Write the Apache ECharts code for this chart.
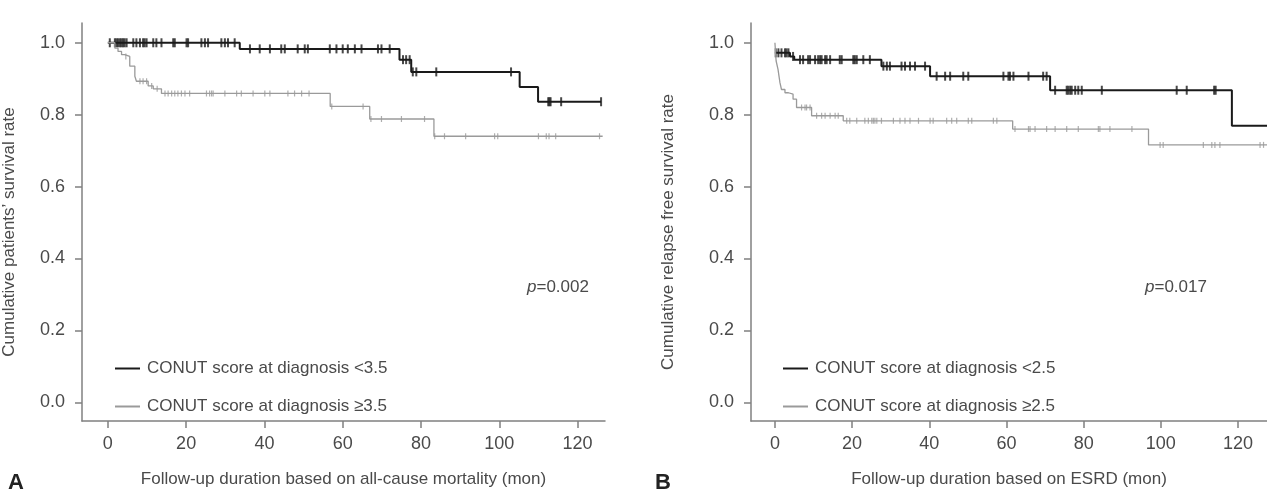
<!DOCTYPE html>
<html>
<head>
    <meta charset="utf-8">
    <title>Kaplan-Meier CONUT</title>
    <script src="https://cdn.jsdelivr.net/npm/echarts@6/dist/echarts.min.js"></script>
    <style>
        html, body { margin: 0; padding: 0; background: #fff; }
    </style>
</head>
<body>
    <div id="main" style="width: 1267px;height:493px;"></div>

    <script type="text/javascript">
        // tick values
        var xTicks = [0, 20, 40, 60, 80, 100, 120];
        var yTicks = [0, 0.2, 0.4, 0.6, 0.8, 1.0];

        // A: all-cause mortality, CONUT < 3.5
        var aLowTimes = [0, 33.7, 74.5, 77.5, 105.2, 109.9];
        var aLowSurv = [1.0, 0.983, 0.953, 0.919, 0.877, 0.836];
        var aLowEnd = 126;
        var aLowCens = [0.5, 1.8, 2.2, 2.6, 3.1, 3.5, 3.9, 4.3, 4.8, 6.5, 7.3, 8.2, 9.0, 9.4, 9.9, 11.6, 12.4, 13.7,
            16.7, 17.1, 20.1, 20.5, 23.9, 24.8, 25.6, 29.0, 29.9, 30.7, 32.4,
            36.3, 38.8, 41.4, 44.3, 45.2, 48.5, 50.3, 51.1, 56.7, 58.4, 60.0, 61.3, 63.1, 64.8, 69.0, 69.9, 72.0,
            75.4, 76.2, 77.1, 77.9, 78.8, 83.9, 103.0, 112.5, 112.8, 113.1, 115.8, 126];

        // A: CONUT >= 3.5
        var aHighTimes = [0, 1.8, 2.6, 3.5, 4.3, 5.6, 6.9, 7.3, 10.3, 11.6, 13.7, 56.8, 66.9, 83.3];
        var aHighSurv = [1.0, 0.985, 0.976, 0.967, 0.962, 0.935, 0.907, 0.893, 0.880, 0.872, 0.859, 0.823, 0.788, 0.740];
        var aHighEnd = 126.4;
        var aHighCens = [4.6, 8.2, 9.0, 9.9, 11.2, 12.6, 14.6, 15.4, 16.3, 17.1, 17.9, 18.8, 19.7, 20.9, 25.2, 26.0, 26.5, 26.9,
            29.9, 32.9, 34.1, 37.1, 40.1, 41.4, 46.0, 47.7, 49.5, 51.4, 57.2, 65.2, 67.2, 69.9, 75.0, 80.9,
            83.5, 86.0, 91.4, 98.8, 99.6, 110.0, 112.0, 112.7, 114.4, 125.6];

        // B: ESRD, CONUT < 2.5
        var bLowTimes = [0, 3.9, 5.0, 27.6, 40.2, 71.3, 118.4];
        var bLowSurv = [0.972, 0.962, 0.953, 0.935, 0.907, 0.868, 0.769];
        var bLowEnd = 130;
        var bLowCens = [0.2, 0.9, 1.7, 2.6, 3.0, 3.5, 4.7, 6.5, 7.3, 8.6, 9.1, 10.4, 11.2, 11.7, 12.1, 13.0, 13.4, 14.3,
            16.8, 17.3, 20.3, 20.7, 21.2, 22.9, 24.6, 28.1, 29.0, 29.8, 32.8, 33.7, 35.0, 36.3, 38.9,
            41.9, 44.1, 45.4, 48.8, 50.1, 59.2, 60.5, 60.9, 61.8, 65.7, 69.5, 70.4,
            72.6, 75.6, 76.0, 76.5, 76.9, 77.8, 78.6, 79.5, 84.7, 104.1, 106.7, 113.8, 114.2];

        // B: CONUT >= 2.5
        var bHighTimes = [0, 0.3, 0.8, 1.3, 1.7, 2.6, 3.5, 4.7, 5.6, 9.5, 17.7, 61.6, 96.8];
        var bHighSurv = [1.0, 0.95, 0.926, 0.889, 0.870, 0.861, 0.857, 0.843, 0.820, 0.797, 0.783, 0.760, 0.716];
        var bHighEnd = 130;
        var bHighCens = [6.9, 7.8, 8.2, 9.1, 10.8, 12.1, 13.0, 14.3, 15.6, 16.4,
            18.6, 19.4, 21.2, 23.3, 24.2, 25.1, 25.5, 25.9, 26.4, 27.6, 30.7, 32.4, 33.7, 35.0, 37.2, 40.2, 41.0,
            44.5, 45.8, 47.1, 50.1, 51.0, 56.6, 57.5,
            62.2, 65.7, 66.1, 67.4, 70.4, 72.6, 75.6, 78.6, 83.8, 84.2, 86.8, 92.5,
            99.8, 100.6, 111.0, 113.2, 114.0, 115.3, 125.7, 126.6];

        var FONT = '"Liberation Sans", Arial, sans-serif';
        var TXT = '#4a4a4a';
        var AXC = '#808080';
        var BLACK = '#1a1a1a';
        var GRAY = '#9a9a9a';

        function stepData(times, surv, end) {
            var d = [];
            for (var i = 0; i < times.length; i++) d.push([times[i], surv[i]]);
            d.push([end, surv[surv.length - 1]]);
            return d;
        }
        function censData(cens, times, surv) {
            return cens.map(function (t) {
                var s = surv[0];
                for (var i = 0; i < times.length; i++) if (times[i] <= t) s = surv[i];
                return [t, s];
            });
        }

        function xAx(idx, min, max, name) {
            return {
                type: 'value', gridIndex: idx, min: min, max: max,
                splitLine: { show: false },
                axisLine: { show: true, onZero: false, lineStyle: { color: AXC, width: 1.5 } },
                axisTick: { show: true, inside: false, length: 7, lineStyle: { color: AXC, width: 1.5 }, customValues: xTicks },
                axisLabel: { customValues: xTicks, margin: 14, color: TXT, fontSize: 18, fontFamily: FONT },
                name: name, nameLocation: 'middle', nameGap: 50,
                nameTextStyle: { color: TXT, fontSize: 17, fontFamily: FONT }
            };
        }
        function yAx(idx, name, gap) {
            return {
                type: 'value', gridIndex: idx, min: -0.052, max: 1.055,
                splitLine: { show: false },
                axisLine: { show: true, onZero: false, lineStyle: { color: AXC, width: 1.5 } },
                axisTick: { show: true, inside: false, length: 7, lineStyle: { color: AXC, width: 1.5 }, customValues: yTicks },
                axisLabel: {
                    customValues: yTicks, margin: 17, color: TXT, fontSize: 18, fontFamily: FONT,
                    formatter: function (v) { return v.toFixed(1); }
                },
                name: name, nameLocation: 'middle', nameGap: gap, nameRotate: 90,
                nameTextStyle: { color: TXT, fontSize: 17, fontFamily: FONT, padding: [0, 0, 0, -20] }
            };
        }
        function lineS(name, xi, data, color, w) {
            return {
                name: name, type: 'line', step: 'end', xAxisIndex: xi, yAxisIndex: xi,
                symbol: 'none', data: data, silent: true,
                lineStyle: { color: color, width: w }, itemStyle: { color: color }
            };
        }
        function censS(xi, data, color, size) {
            return {
                type: 'scatter', xAxisIndex: xi, yAxisIndex: xi, data: data, silent: true,
                symbol: 'rect', symbolSize: size, itemStyle: { color: color }
            };
        }
        function legendFor(left, names) {
            return {
                left: left, top: 355, orient: 'vertical', itemGap: 21,
                itemWidth: 25, itemHeight: 2, icon: 'rect', data: names, selectedMode: false,
                textStyle: { color: TXT, fontSize: 17, fontFamily: FONT, lineHeight: 16, padding: [0, 0, 0, 2] }
            };
        }

        var myChart = echarts.init(document.getElementById('main'));

        var option = {
            animation: false,
            backgroundColor: '#fff',
            grid: [
                { left: 82, top: 23, width: 523, height: 402 },
                { left: 751, top: 23, width: 516, height: 402 }
            ],
            xAxis: [
                xAx(0, -6.6, 127, 'Follow-up duration based on all-cause mortality (mon)'),
                xAx(1, -6.2, 127.5, 'Follow-up duration based on ESRD (mon)')
            ],
            yAxis: [
                yAx(0, 'Cumulative patients\u2019 survival rate', 64),
                yAx(1, 'Cumulative relapse free survival rate', 74)
            ],
            legend: [
                legendFor(110, ['CONUT score at diagnosis <3.5', 'CONUT score at diagnosis \u22653.5']),
                legendFor(778, ['CONUT score at diagnosis <2.5', 'CONUT score at diagnosis \u22652.5'])
            ],
            graphic: [
                { type: 'text', left: 8, top: 472, style: { text: 'A', font: 'bold 22px "Liberation Sans", sans-serif', fill: '#222' } },
                { type: 'text', left: 655, top: 472, style: { text: 'B', font: 'bold 22px "Liberation Sans", sans-serif', fill: '#222' } },
                {
                    type: 'text', left: 527, top: 279,
                    style: {
                        text: '{i|p}=0.002', fill: TXT, font: '17px ' + FONT,
                        rich: { i: { fontStyle: 'italic', fontSize: 17, fontFamily: FONT, fill: TXT } }
                    }
                },
                {
                    type: 'text', left: 1145, top: 279,
                    style: {
                        text: '{i|p}=0.017', fill: TXT, font: '17px ' + FONT,
                        rich: { i: { fontStyle: 'italic', fontSize: 17, fontFamily: FONT, fill: TXT } }
                    }
                }
            ],
            series: [
                lineS('CONUT score at diagnosis <3.5', 0, stepData(aLowTimes, aLowSurv, aLowEnd), BLACK, 2),
                lineS('CONUT score at diagnosis \u22653.5', 0, stepData(aHighTimes, aHighSurv, aHighEnd), GRAY, 1.3),
                censS(0, censData(aLowCens, aLowTimes, aLowSurv), BLACK, [2, 9]),
                censS(0, censData(aHighCens, aHighTimes, aHighSurv), GRAY, [1.2, 6]),
                lineS('CONUT score at diagnosis <2.5', 1, stepData(bLowTimes, bLowSurv, bLowEnd), BLACK, 2),
                lineS('CONUT score at diagnosis \u22652.5', 1, stepData(bHighTimes, bHighSurv, bHighEnd), GRAY, 1.3),
                censS(1, censData(bLowCens, bLowTimes, bLowSurv), BLACK, [2, 9]),
                censS(1, censData(bHighCens, bHighTimes, bHighSurv), GRAY, [1.2, 6])
            ]
        };

        myChart.setOption(option);
    </script>
</body>
</html>
